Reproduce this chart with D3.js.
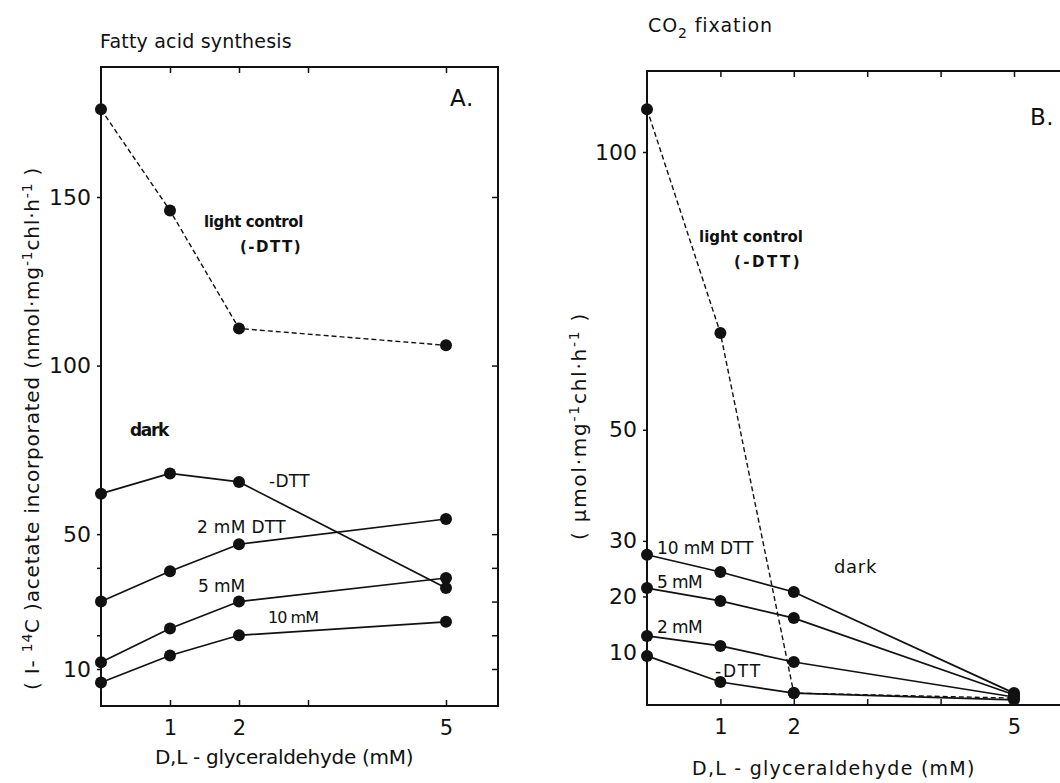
<!DOCTYPE html>
<html><head><meta charset="utf-8">
<script src="https://cdn.jsdelivr.net/npm/d3@7"></script>
<style>body{margin:0;background:#fff}svg{display:block}text{font-family:"DejaVu Sans",sans-serif;fill:#111}</style>
</head><body>
<svg id="c" width="1060" height="783"></svg>
<script>
// ---- data ----
const glyceraldehyde = [0, 1, 2, 5];
// Panel A: fatty acid synthesis (nmol mg-1 chl h-1)
const aLightControl = [176, 146, 111, 106];
const aDarkNoDTT = [62, 68, 65.5, 34];
const aDark2mM = [30, 39, 47, 54.5];
const aDark5mM = [12, 22, 30, 37];
const aDark10mM = [6, 14, 20, 24];
// Panel B: CO2 fixation (umol mg-1 chl h-1)
const bLightControl = [107.7, 67.4, 2.6, 1.7];
const bDark10mM = [27.5, 24.4, 20.8, 2.6];
const bDark5mM = [21.5, 19.2, 16.1, 2.3];
const bDark2mM = [12.9, 11.1, 8.2, 1.9];
const bDarkNoDTT = [9.3, 4.6, 2.6, 1.4];
// ticks
const aXTicks = [1, 2, 3, 5];
const aXLabels = [1, 2, 5];
const aYTicks = [10, 20, 30, 40, 50, 100, 150];
const aYLabels = [10, 50, 100, 150];
const bXTicks = [1, 2, 3, 4, 5];
const bXLabels = [1, 2, 5];
const bYTicks = [10, 20, 30, 50, 100];
const bYLabels = [10, 20, 30, 50, 100];

const svg = d3.select('#c');
const TICKFONT = '"Liberation Sans",Arial,sans-serif';

function fit(sel, w) {
  const n = sel.text().length;
  const cur = sel.node().getComputedTextLength();
  sel.attr('letter-spacing', ((w - cur) / Math.max(n, 1)).toFixed(2));
  return sel;
}
function label(g, x, y, txt, size, w, weight) {
  const t = g.append('text').attr('x', x).attr('y', y).attr('font-size', size)
    .attr('font-weight', weight || 'normal').text(txt);
  if (w) fit(t, w);
  return t;
}

function panel(cfg) {
  const g = svg.append('g');
  const x = d3.scaleLinear().domain([0, 5]).range(cfg.xr);
  const y = d3.scaleLinear().domain(cfg.yd).range(cfg.yr);
  const L = cfg.box[0], T = cfg.box[1], R = cfg.box[2], B = cfg.box[3];
  g.append('rect').attr('x', L).attr('y', T).attr('width', R - L).attr('height', B - T)
    .attr('fill', 'none').attr('stroke', '#111').attr('stroke-width', 2);
  const fmtX = d => cfg.xLabels.includes(d) ? d : '';
  const fmtY = d => cfg.yLabels.includes(d) ? d : '';
  const ax = g.append('g').attr('transform', `translate(0,${B})`)
    .call(d3.axisBottom(x).tickValues(cfg.xTicks).tickSize(-6).tickPadding(14).tickFormat(fmtX));
  ax.select('.domain').remove();
  ax.selectAll('text').attr('font-size', 21).attr('fill', '#111').attr('font-family', TICKFONT);
  ax.selectAll('line').attr('stroke', '#111').attr('stroke-width', 1.5);
  const at = g.append('g').attr('transform', `translate(0,${T})`)
    .call(d3.axisTop(x).tickValues(cfg.xTicks).tickSize(-6).tickFormat(''));
  at.select('.domain').remove();
  at.selectAll('line').attr('stroke', '#111').attr('stroke-width', 1.5);
  const al = g.append('g').attr('transform', `translate(${L},0)`)
    .call(d3.axisLeft(y).tickValues(cfg.yTicks).tickSize(4).tickPadding(cfg.yPad).tickFormat(fmtY));
  al.select('.domain').remove();
  al.selectAll('text').attr('font-size', 22).attr('fill', '#111').attr('font-family', TICKFONT);
  al.selectAll('line').attr('stroke', '#111').attr('stroke-width', 1.5);
  if (cfg.rightTicks) {
    const ar = g.append('g').attr('transform', `translate(${R},0)`)
      .call(d3.axisRight(y).tickValues(cfg.yTicks).tickSize(-6).tickFormat(''));
    ar.select('.domain').remove();
    ar.selectAll('line').attr('stroke', '#111').attr('stroke-width', 1.5);
  }
  const line = d3.line().x((d, i) => x(glyceraldehyde[i])).y(d => y(d));
  cfg.series.forEach(s => {
    g.append('path').datum(s.v).attr('d', line).attr('fill', 'none').attr('stroke', '#111')
      .attr('stroke-width', s.dash ? 1.4 : 1.7).attr('stroke-dasharray', s.dash ? '5,3' : null);
  });
  cfg.series.forEach(s => {
    g.selectAll(null).data(s.v).enter().append('circle')
      .attr('cx', (d, i) => x(glyceraldehyde[i])).attr('cy', d => y(d)).attr('r', 6).attr('fill', '#111');
  });
  return g;
}

// ---- Panel A ----
const gA = panel({
  xr: [101, 446], yd: [10, 150], yr: [669, 197], box: [101, 67, 498, 706],
  xTicks: aXTicks, xLabels: aXLabels, yTicks: aYTicks, yLabels: aYLabels, yPad: 6, rightTicks: true,
  series: [{ v: aLightControl, dash: true }, { v: aDarkNoDTT }, { v: aDark2mM }, { v: aDark5mM }, { v: aDark10mM }]
});
label(gA, 100, 48, 'Fatty acid synthesis', 19, 192);
label(gA, 450, 106, 'A.', 23, 24);
label(gA, 204, 227, 'light control', 15, 99, 'bold');
label(gA, 240, 252, '(-DTT)', 15, 62, 'bold');
label(gA, 130, 436, 'dark', 17, 38, 'bold');
label(gA, 269, 487, '-DTT', 17, 41);
label(gA, 197, 533, '2 mM DTT', 17, 89);
label(gA, 198, 592, '5 mM', 17, 47);
label(gA, 268, 623, '10 mM', 16, 50);
label(gA, 155, 764, 'D,L - glyceraldehyde  (mM)', 20, 258);
{
  const t = gA.append('text').attr('transform', 'translate(39,690) rotate(-90)').attr('font-size', 20);
  t.append('tspan').text('( I- ');
  t.append('tspan').attr('font-size', 14).attr('dy', -7).text('14');
  t.append('tspan').attr('dy', 7).text('C )acetate  incorporated  (nmol·mg');
  t.append('tspan').attr('font-size', 14).attr('dy', -7).text('-1');
  t.append('tspan').attr('dy', 7).text('chl·h');
  t.append('tspan').attr('font-size', 14).attr('dy', -7).text('-1');
  t.append('tspan').attr('dy', 7).text(' )');
  fit(t, 525);
}

// ---- Panel B ----
const gB = panel({
  xr: [647, 1014], yd: [10, 100], yr: [652, 152], box: [647, 71, 1080, 705],
  xTicks: bXTicks, xLabels: bXLabels, yTicks: bYTicks, yLabels: bYLabels, yPad: 6, rightTicks: false,
  series: [{ v: bLightControl, dash: true }, { v: bDark10mM }, { v: bDark5mM }, { v: bDark2mM }, { v: bDarkNoDTT }]
});
{
  const t = gB.append('text').attr('x', 648).attr('y', 32).attr('font-size', 19);
  t.append('tspan').text('CO');
  t.append('tspan').attr('font-size', 14).attr('dy', 6).text('2');
  t.append('tspan').attr('dy', -6).text(' fixation');
  fit(t, 125);
}
label(gB, 1030, 125, 'B.', 23, 24);
label(gB, 699, 242, 'light control', 15, 104, 'bold');
label(gB, 734, 267, '(-DTT)', 15, 68, 'bold');
label(gB, 657, 554, '10 mM  DTT', 17, 96);
label(gB, 657, 588, '5 mM', 17, 45);
label(gB, 657, 633, '2 mM', 17, 45);
label(gB, 715, 677, '-DTT', 17, 47);
label(gB, 834, 573, 'dark', 18, 43);
label(gB, 692, 775, 'D,L - glyceraldehyde  (mM)', 19, 285);
{
  const t = gB.append('text').attr('transform', 'translate(586,540) rotate(-90)').attr('font-size', 20);
  t.append('tspan').text('( µmol·mg');
  t.append('tspan').attr('font-size', 14).attr('dy', -7).text('-1');
  t.append('tspan').attr('dy', 7).text('chl·h');
  t.append('tspan').attr('font-size', 14).attr('dy', -7).text('-1');
  t.append('tspan').attr('dy', 7).text(' )');
  fit(t, 228);
}
</script>
</body></html>
